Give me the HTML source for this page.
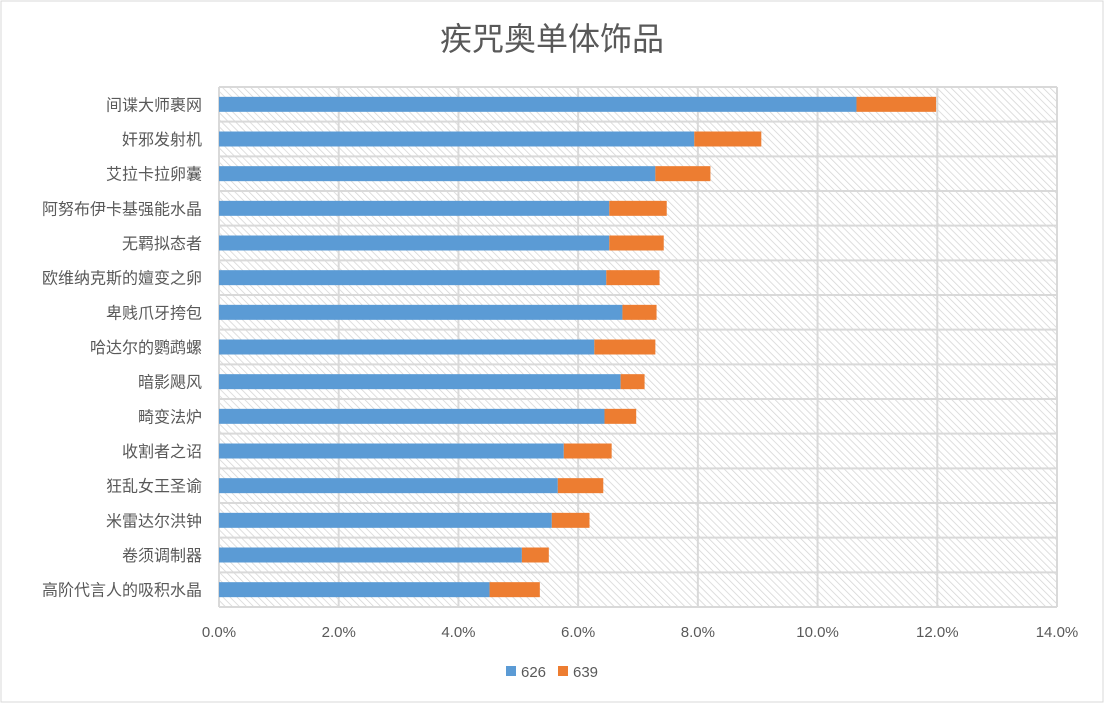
<!DOCTYPE html>
<html><head><meta charset="utf-8"><style>
body{margin:0;background:#fff;}
svg{display:block;font-family:"Liberation Sans","Noto Sans CJK SC",sans-serif;}
</style></head><body>
<svg id="chart" width="1104" height="703" viewBox="0 0 1104 703">
<defs>
<pattern id="hatch" width="5" height="5" patternUnits="userSpaceOnUse" patternTransform="rotate(-45)">
<rect width="5" height="5" fill="#fff"/>
<line x1="0" y1="0" x2="0" y2="5" stroke="#d4d4d4" stroke-width="1.5"/>
</pattern>
</defs>
<rect x="1" y="1" width="1102" height="701" fill="#fff" stroke="#d9d9d9"/>
<text x="552" y="50" text-anchor="middle" font-size="32" fill="#595959">疾咒奥单体饰品</text>
<g id="plot"></g>
<g>
<rect x="506" y="666" width="10" height="10" fill="#5b9bd5"/>
<text x="521" y="677" font-size="15" fill="#595959">626</text>
<rect x="558" y="666" width="10" height="10" fill="#ed7d31"/>
<text x="573" y="677" font-size="15" fill="#595959">639</text>
</g>
</svg>
<script>
const categories = ["间谍大师裹网","奸邪发射机","艾拉卡拉卵囊","阿努布伊卡基强能水晶","无羁拟态者","欧维纳克斯的嬗变之卵","卑贱爪牙挎包","哈达尔的鹦鹉螺","暗影飓风","畸变法炉","收割者之诏","狂乱女王圣谕","米雷达尔洪钟","卷须调制器","高阶代言人的吸积水晶"];
const series626 = [10.65,7.94,7.29,6.52,6.52,6.47,6.74,6.27,6.71,6.44,5.76,5.66,5.56,5.06,4.52];
const series639 = [1.33,1.12,0.92,0.96,0.91,0.89,0.57,1.02,0.40,0.53,0.80,0.76,0.63,0.45,0.84];
const xTicks = [0,2,4,6,8,10,12,14];
const xTickLabels = ["0.0%","2.0%","4.0%","6.0%","8.0%","10.0%","12.0%","14.0%"];

const NS="http://www.w3.org/2000/svg";
const L=219,R=1057,T=87,B=607,XMAX=14;
const xs=v=>L+(v/XMAX)*(R-L);
const rowH=(B-T)/categories.length;
const ys=i=>T+i*rowH;
const g=document.getElementById('plot');
function mk(tag,attrs){const e=document.createElementNS(NS,tag);for(const k in attrs)e.setAttribute(k,attrs[k]);g.appendChild(e);return e;}
const bg=mk('rect',{x:L,y:T,width:R-L,height:B-T,fill:'url(#hatch)'});


for(let i=0;i<=categories.length;i++){
  const ln=mk('line',{x1:L,x2:R,y1:ys(i),y2:ys(i),stroke:'#d9d9d9','stroke-width':2});
  
  
}
xTicks.forEach((t,j)=>{
  const ln=mk('line',{x1:xs(t),x2:xs(t),y1:T,y2:B,stroke:'#d9d9d9','stroke-width':2});
  
  
  const tx=mk('text',{x:xs(t),y:637,'text-anchor':'middle','font-size':15,fill:'#595959'});
  tx.textContent=xTickLabels[j];
  
  
});
const bh=15;
categories.forEach((c,i)=>{
  const cy=ys(i)+rowH/2;
  const lb=mk('text',{x:202,y:cy+6,'text-anchor':'end','font-size':16,fill:'#595959'});
  lb.textContent=c;
  
  
  const b1=mk('rect',{x:xs(0),y:cy-bh/2,width:xs(series626[i])-xs(0),height:bh,fill:'#5b9bd5'});
  
  
  const b2=mk('rect',{x:xs(series626[i]),y:cy-bh/2,width:xs(series626[i]+series639[i])-xs(series626[i]),height:bh,fill:'#ed7d31'});
  
  
});
</script>
</body></html>
